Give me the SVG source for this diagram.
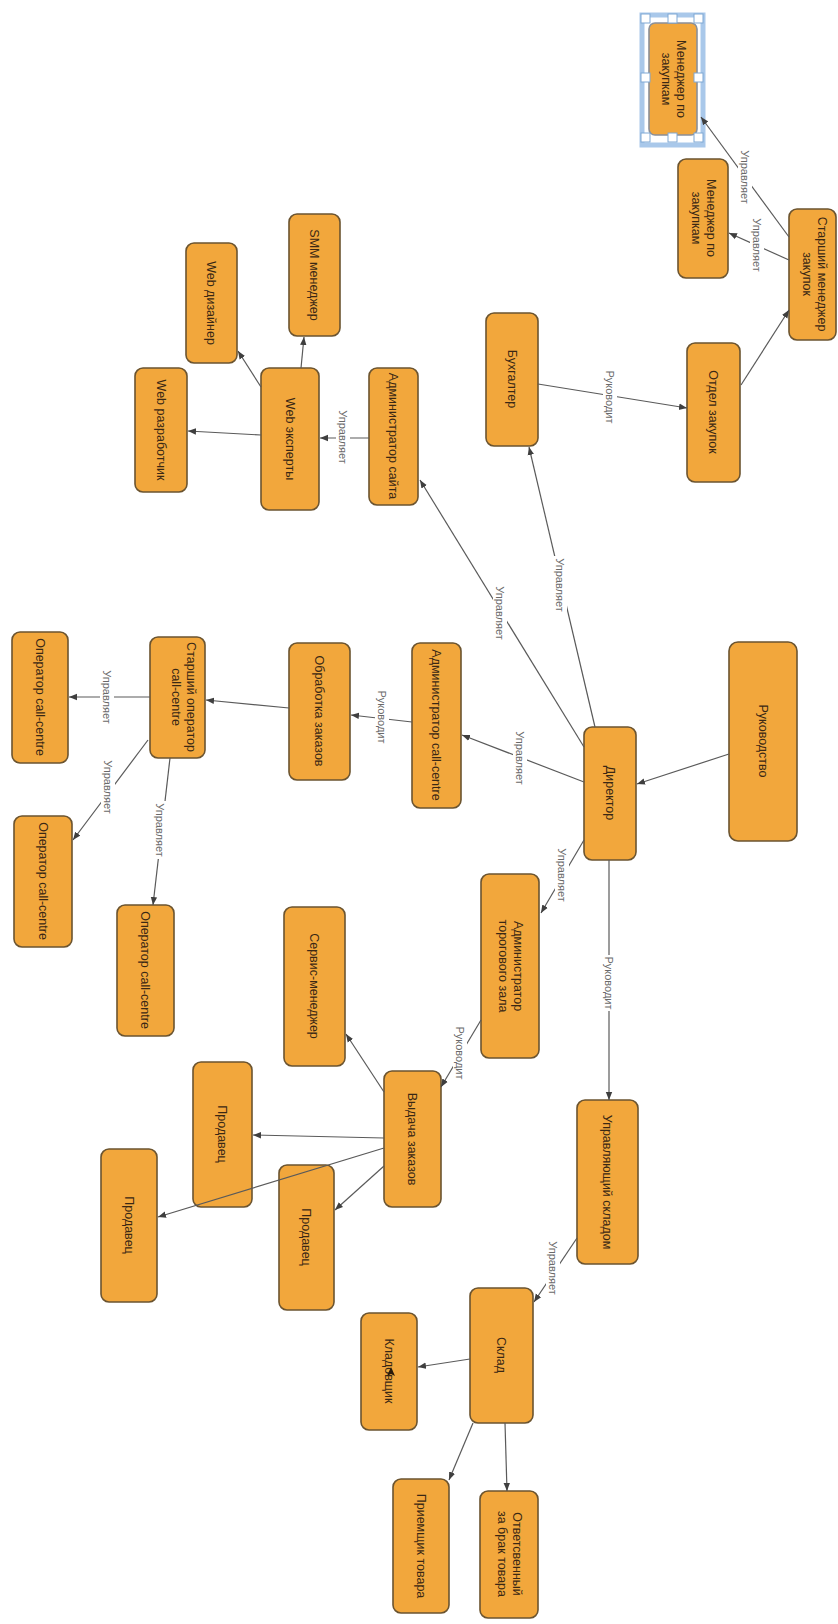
<svg xmlns="http://www.w3.org/2000/svg" width="838" height="1624" viewBox="0 0 838 1624">
<style>
.n{fill:#F2A73C;stroke:#6B5430;stroke-width:1.6}
.t{font-family:"Liberation Sans",Arial,sans-serif;font-size:12.5px;fill:#3A2814;text-anchor:middle;dominant-baseline:central}
.c{stroke:#5A5A5A;stroke-width:1.2;fill:none;marker-end:url(#ah)}
.lb{fill:#FFFFFF}
.lt{font-family:"Liberation Sans",Arial,sans-serif;font-size:11px;fill:#6A6A6A;text-anchor:middle;dominant-baseline:central}
.h{fill:#FFFFFF;stroke:#7FA7D3;stroke-width:1}
</style>
<defs>
<marker id="ah" viewBox="0 0 10 10" refX="10" refY="5" markerWidth="8" markerHeight="8" markerUnits="userSpaceOnUse" orient="auto">
<path d="M0,1 L10,5 L0,9 z" fill="#3F3F3F"/>
</marker>
</defs>
<rect width="838" height="1624" fill="#FFFFFF"/>

<g id="n1">
<rect x="642" y="15" width="61" height="130" fill="none" stroke="#A9C8EA" stroke-width="5"/>
<rect x="649" y="23" width="48" height="112" rx="6" fill="#F2A73C" stroke="#8A8F98" stroke-width="1.6"/>
<text class="t" transform="translate(673,79) rotate(90)"><tspan x="0" y="-7.5">Менеджер по</tspan><tspan x="0" y="7.5">закупкам</tspan></text>
<rect class="h" x="641" y="14" width="9" height="9"/><rect class="h" x="668" y="14" width="9" height="9"/><rect class="h" x="694" y="14" width="9" height="9"/>
<rect class="h" x="641" y="73" width="9" height="9"/><rect class="h" x="694" y="73" width="9" height="9"/>
<rect class="h" x="641" y="133" width="9" height="9"/><rect class="h" x="668" y="133" width="9" height="9"/><rect class="h" x="694" y="133" width="9" height="9"/>
</g>
<g id="n2"><rect class="n" x="678" y="159" width="50" height="119" rx="8"/><text class="t" transform="translate(703,218) rotate(90)"><tspan x="0" y="-7.5">Менеджер по</tspan><tspan x="0" y="7.5">закупкам</tspan></text></g>
<g id="n3"><rect class="n" x="789" y="209" width="47" height="131" rx="8"/><text class="t" transform="translate(814,274) rotate(90)"><tspan x="0" y="-7.5">Старший менеджер</tspan><tspan x="0" y="7.5">закупок</tspan></text></g>
<g id="n4"><rect class="n" x="687" y="343" width="53" height="139" rx="8"/><text class="t" transform="translate(713,412) rotate(90)">Отдел закупок</text></g>
<g id="n5"><rect class="n" x="486" y="313" width="52" height="133" rx="8"/><text class="t" transform="translate(512,379) rotate(90)">Бухгалтер</text></g>
<g id="n6"><rect class="n" x="369" y="368" width="49" height="137" rx="8"/><text class="t" transform="translate(393,436) rotate(90)">Администратор сайта</text></g>
<g id="n7"><rect class="n" x="261" y="368" width="58" height="142" rx="8"/><text class="t" transform="translate(290,439) rotate(90)">Web эксперты</text></g>
<g id="n8"><rect class="n" x="135" y="368" width="52" height="124" rx="8"/><text class="t" transform="translate(161,430) rotate(90)">Web разработчик</text></g>
<g id="n9"><rect class="n" x="186" y="243" width="51" height="120" rx="8"/><text class="t" transform="translate(211,303) rotate(90)">Web дизайнер</text></g>
<g id="n10"><rect class="n" x="289" y="214" width="51" height="122" rx="8"/><text class="t" transform="translate(314,275) rotate(90)">SMM менеджер</text></g>
<g id="n11"><rect class="n" x="729" y="642" width="68" height="199" rx="9"/><text class="t" transform="translate(763,741) rotate(90)">Руководство</text></g>
<g id="n12"><rect class="n" x="584" y="727" width="52" height="133" rx="8"/><text class="t" transform="translate(610,793) rotate(90)">Директор</text></g>
<g id="n13"><rect class="n" x="412" y="643" width="49" height="165" rx="8"/><text class="t" transform="translate(436,725) rotate(90)">Администратор call-centre</text></g>
<g id="n14"><rect class="n" x="289" y="643" width="61" height="137" rx="8"/><text class="t" transform="translate(319,711) rotate(90)">Обработка заказов</text></g>
<g id="n15"><rect class="n" x="150" y="637" width="55" height="121" rx="8"/><text class="t" transform="translate(183,697) rotate(90)"><tspan x="0" y="-7.5">Старший оператор</tspan><tspan x="0" y="7.5">call-centre</tspan></text></g>
<g id="n16"><rect class="n" x="12" y="632" width="56" height="131" rx="8"/><text class="t" transform="translate(40,697) rotate(90)">Оператор call-centre</text></g>
<g id="n17"><rect class="n" x="14" y="816" width="58" height="131" rx="8"/><text class="t" transform="translate(43,881) rotate(90)">Оператор call-centre</text></g>
<g id="n18"><rect class="n" x="117" y="905" width="57" height="131" rx="8"/><text class="t" transform="translate(145,970) rotate(90)">Оператор call-centre</text></g>
<g id="n19"><rect class="n" x="481" y="874" width="58" height="184" rx="8"/><text class="t" transform="translate(510,966) rotate(90)"><tspan x="0" y="-7.5">Администратор</tspan><tspan x="0" y="7.5">торогового зала</tspan></text></g>
<g id="n20"><rect class="n" x="577" y="1100" width="61" height="164" rx="8"/><text class="t" transform="translate(607,1182) rotate(90)">Управляющий складом</text></g>
<g id="n21"><rect class="n" x="284" y="907" width="61" height="159" rx="8"/><text class="t" transform="translate(314,986) rotate(90)">Сервис-менеджер</text></g>
<g id="n22"><rect class="n" x="384" y="1071" width="57" height="136" rx="8"/><text class="t" transform="translate(412,1139) rotate(90)">Выдача заказов</text></g>
<g id="n23"><rect class="n" x="193" y="1062" width="59" height="145" rx="8"/><text class="t" transform="translate(222,1134) rotate(90)">Продавец</text></g>
<g id="n24"><rect class="n" x="279" y="1165" width="55" height="145" rx="8"/><text class="t" transform="translate(306,1237) rotate(90)">Продавец</text></g>
<g id="n25"><rect class="n" x="101" y="1149" width="56" height="153" rx="8"/><text class="t" transform="translate(129,1225) rotate(90)">Продавец</text></g>
<g id="n26"><rect class="n" x="470" y="1288" width="63" height="135" rx="8"/><text class="t" transform="translate(501,1355) rotate(90)">Склад</text></g>
<g id="n27"><rect class="n" x="361" y="1313" width="56" height="117" rx="8"/><text class="t" transform="translate(389,1371) rotate(90)">Кладовщик</text><path d="M391,1367 L395,1376 L391,1374 L387,1376 z" fill="#2A1A0A"/></g>
<g id="n28"><rect class="n" x="393" y="1479" width="56" height="134" rx="8"/><text class="t" transform="translate(421,1546) rotate(90)">Приемщик товара</text></g>
<g id="n29"><rect class="n" x="480" y="1491" width="58" height="127" rx="8"/><text class="t" transform="translate(509,1554) rotate(90)"><tspan x="0" y="-7.5">Ответсвенный</tspan><tspan x="0" y="7.5">за брак товара</tspan></text></g>

<g id="connectors">
<line class="c" x1="729" y1="754" x2="637" y2="784"/>
<line class="c" x1="584" y1="782" x2="462" y2="735"/>
<line class="c" x1="584" y1="747" x2="420" y2="480"/>
<line class="c" x1="595" y1="727" x2="529" y2="447"/>
<line class="c" x1="584" y1="840" x2="541" y2="913"/>
<line class="c" x1="609" y1="860" x2="609" y2="1100"/>
<line class="c" x1="538" y1="384" x2="687" y2="408"/>
<line class="c" x1="741" y1="385" x2="789" y2="310"/>
<line class="c" x1="789" y1="237" x2="701" y2="117"/>
<line class="c" x1="789" y1="260" x2="729" y2="233"/>
<line class="c" x1="369" y1="438" x2="320" y2="438"/>
<line class="c" x1="261" y1="435" x2="188" y2="431"/>
<line class="c" x1="261" y1="387" x2="238" y2="351"/>
<line class="c" x1="301" y1="368" x2="304" y2="337"/>
<line class="c" x1="412" y1="722" x2="351" y2="715"/>
<line class="c" x1="289" y1="708" x2="206" y2="700"/>
<line class="c" x1="150" y1="697" x2="69" y2="697"/>
<line class="c" x1="148" y1="740" x2="73" y2="840"/>
<line class="c" x1="170" y1="758" x2="153" y2="905"/>
<line class="c" x1="481" y1="1020" x2="441" y2="1087"/>
<line class="c" x1="384" y1="1092" x2="346" y2="1034"/>
<line class="c" x1="384" y1="1138" x2="253" y2="1135"/>
<line class="c" x1="384" y1="1148" x2="158" y2="1217"/>
<line class="c" x1="384" y1="1166" x2="335" y2="1210"/>
<line class="c" x1="577" y1="1238" x2="534" y2="1302"/>
<line class="c" x1="470" y1="1359" x2="418" y2="1367"/>
<line class="c" x1="473" y1="1423" x2="449" y2="1480"/>
<line class="c" x1="505" y1="1423" x2="507" y2="1491"/>

<rect class="lb" x="513" y="729" width="14" height="58"/><text class="lt" transform="translate(520,758) rotate(90)">Управляет</text>
<rect class="lb" x="493" y="584" width="14" height="58"/><text class="lt" transform="translate(500,613) rotate(90)">Управляет</text>
<rect class="lb" x="553" y="556" width="14" height="58"/><text class="lt" transform="translate(560,585) rotate(90)">Управляет</text>
<rect class="lb" x="555" y="846" width="14" height="58"/><text class="lt" transform="translate(562,875) rotate(90)">Управляет</text>
<rect class="lb" x="602" y="955" width="14" height="56"/><text class="lt" transform="translate(609,983) rotate(90)">Руководит</text>
<rect class="lb" x="603" y="369" width="14" height="56"/><text class="lt" transform="translate(610,397) rotate(90)">Руководит</text>
<rect class="lb" x="738" y="148" width="14" height="58"/><text class="lt" transform="translate(745,177) rotate(90)">Управляет</text>
<rect class="lb" x="750" y="216" width="14" height="58"/><text class="lt" transform="translate(757,245) rotate(90)">Управляет</text>
<rect class="lb" x="336" y="408" width="14" height="58"/><text class="lt" transform="translate(343,437) rotate(90)">Управляет</text>
<rect class="lb" x="375" y="689" width="14" height="56"/><text class="lt" transform="translate(382,717) rotate(90)">Руководит</text>
<rect class="lb" x="100" y="668" width="14" height="58"/><text class="lt" transform="translate(107,697) rotate(90)">Управляет</text>
<rect class="lb" x="101" y="758" width="14" height="58"/><text class="lt" transform="translate(108,787) rotate(90)">Управляет</text>
<rect class="lb" x="153" y="801" width="14" height="58"/><text class="lt" transform="translate(160,830) rotate(90)">Управляет</text>
<rect class="lb" x="453" y="1025" width="14" height="56"/><text class="lt" transform="translate(460,1053) rotate(90)">Руководит</text>
<rect class="lb" x="546" y="1239" width="14" height="58"/><text class="lt" transform="translate(553,1268) rotate(90)">Управляет</text>
</g>
</svg>
